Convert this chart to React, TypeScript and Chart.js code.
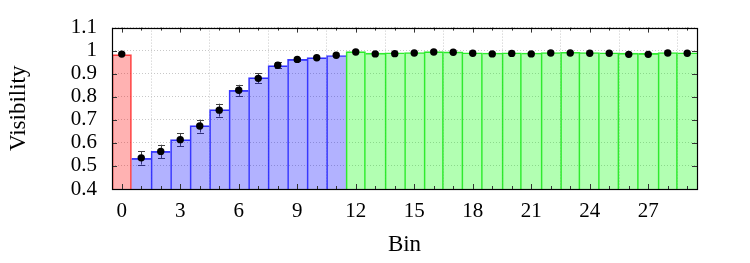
import React, { useEffect, useRef } from "react";
import { Chart, registerables } from "chart.js";

Chart.register(...registerables);

const bins = [0, 1, 2, 3, 4, 5, 6, 7, 8, 9, 10, 11, 12, 13, 14, 15, 16, 17, 18, 19, 20, 21, 22, 23, 24, 25, 26, 27, 28, 29];
const groups = ["r", "b", "b", "b", "b", "b", "b", "b", "b", "b", "b", "b", "g", "g", "g", "g", "g", "g", "g", "g", "g", "g", "g", "g", "g", "g", "g", "g", "g", "g"];
const barValues = [0.983, 0.533, 0.563, 0.614, 0.675, 0.744, 0.828, 0.883, 0.935, 0.962, 0.970, 0.979, 0.996, 0.989, 0.991, 0.992, 0.996, 0.995, 0.991, 0.990, 0.991, 0.990, 0.992, 0.993, 0.992, 0.991, 0.989, 0.988, 0.992, 0.991];
const pointValues = [0.985, 0.535, 0.563, 0.614, 0.673, 0.742, 0.828, 0.880, 0.937, 0.962, 0.969, 0.980, 0.994, 0.986, 0.987, 0.990, 0.994, 0.993, 0.989, 0.986, 0.988, 0.986, 0.990, 0.990, 0.989, 0.989, 0.984, 0.984, 0.990, 0.989];
const errors = [0.003, 0.029, 0.029, 0.029, 0.028, 0.028, 0.024, 0.021, 0.014, 0.008, 0.006, 0.005, 0.003, 0.003, 0.003, 0.003, 0.003, 0.003, 0.003, 0.003, 0.003, 0.003, 0.003, 0.003, 0.003, 0.003, 0.003, 0.003, 0.003, 0.003];
const xTicks = [0, 3, 6, 9, 12, 15, 18, 21, 24, 27];
const yTicks = [0.4, 0.5, 0.6, 0.7, 0.8, 0.9, 1.0, 1.1];

const fillFor: Record<string, string> = { r: "rgba(255,0,0,0.3)", b: "rgba(0,0,255,0.3)", g: "rgba(0,255,0,0.3)" };
const lineFor: Record<string, string> = { r: "rgba(255,60,60,0.9)", b: "rgba(40,40,255,0.9)", g: "rgba(30,230,30,0.9)" };

const FONT = "'Liberation Serif', serif";

const framePlugin = {
  id: "frameTicks",
  beforeDatasetDraw(chart: any, args: any) {
    if (args.index !== 1) return;
    const ctx = chart.ctx;
    const y = chart.scales.y;
    const x = chart.scales.x;
    ctx.save();
    ctx.strokeStyle = "#444";
    ctx.lineWidth = 1;
    bins.forEach((b, i) => {
      const px = Math.round(x.getPixelForValue(b)) + 0.5;
      const top = y.getPixelForValue(pointValues[i] + errors[i]);
      const bot = y.getPixelForValue(pointValues[i] - errors[i]);
      if (bot - top < 3) return;
      ctx.beginPath();
      ctx.moveTo(px, top);
      ctx.lineTo(px, bot);
      ctx.moveTo(px - 3.5, Math.round(top) + 0.5);
      ctx.lineTo(px + 3.5, Math.round(top) + 0.5);
      ctx.moveTo(px - 3.5, Math.round(bot) + 0.5);
      ctx.lineTo(px + 3.5, Math.round(bot) + 0.5);
      ctx.stroke();
    });
    ctx.restore();
  },
  afterDraw(chart: any) {
    const ctx = chart.ctx;
    const a = chart.chartArea;
    const x = chart.scales.x;
    const y = chart.scales.y;
    ctx.save();
    ctx.strokeStyle = "#333";
    ctx.lineWidth = 1;
    ctx.beginPath();
    bins.forEach((b) => {
      const px = Math.round(x.getPixelForValue(b)) + 0.5;
      const len = b % 3 === 0 ? 5 : 3;
      ctx.moveTo(px, a.bottom);
      ctx.lineTo(px, a.bottom - len);
      ctx.moveTo(px, a.top);
      ctx.lineTo(px, a.top + len);
    });
    yTicks.forEach((v) => {
      const py = Math.round(y.getPixelForValue(v)) + 0.5;
      ctx.moveTo(a.left, py);
      ctx.lineTo(a.left + 5, py);
      ctx.moveTo(a.right, py);
      ctx.lineTo(a.right - 5, py);
    });
    ctx.stroke();
    ctx.strokeStyle = "#000";
    ctx.lineWidth = 1.2;
    ctx.strokeRect(Math.round(a.left) + 0.5, Math.round(a.top) + 0.5, Math.round(a.right - a.left), Math.round(a.bottom - a.top));
    ctx.restore();
  },
};

export default function App() {
  const ref = useRef<HTMLCanvasElement | null>(null);
  useEffect(() => {
    document.body.style.margin = "0";
    if (!ref.current) return;
    const chart = new Chart(ref.current, {
      type: "bar",
      data: {
        datasets: [
          {
            type: "line",
            data: bins.map((b, i) => ({ x: b, y: pointValues[i] })),
            showLine: false,
            pointRadius: 3.7,
            pointBackgroundColor: "#000",
            pointBorderColor: "#000",
            pointBorderWidth: 0,
            order: 0,
          } as any,
          {
            type: "bar",
            data: bins.map((b, i) => ({ x: b, y: barValues[i] })),
            backgroundColor: groups.map((g) => fillFor[g]),
            borderColor: groups.map((g) => lineFor[g]),
            borderWidth: (c: any) => {
              const i = c.dataIndex;
              const n = barValues.length;
              const left = i === 0 || barValues[i - 1] <= barValues[i] ? 1 : 0;
              const right = i < n - 1 && barValues[i + 1] < barValues[i] ? 1 : 0;
              return { top: 1, left, right, bottom: 0 };
            },
            barPercentage: 1,
            categoryPercentage: 1,
            order: 1,
          } as any,
        ],
      },
      options: {
        responsive: false,
        animation: false,
        layout: { padding: { top: 27, right: 53, left: 0, bottom: 0 } },
        plugins: { legend: { display: false }, tooltip: { enabled: false } },
        scales: {
          x: {
            type: "linear",
            min: -0.5,
            max: 29.5,
            offset: false,
            afterBuildTicks: (s: any) => {
              s.ticks = xTicks.map((v) => ({ value: v }));
            },
            afterFit: (s: any) => {
              s.height = 74;
            },
            ticks: { font: { family: FONT, size: 21 }, color: "#000", padding: 10, autoSkip: false, maxRotation: 0 },
            grid: { color: "#c8c8c8", drawTicks: false, lineWidth: 1 },
            border: { display: false, dash: [1, 2] },
            title: { display: true, text: "Bin", font: { family: FONT, size: 23 }, color: "#000", padding: { top: 0, bottom: 4 } },
          },
          y: {
            min: 0.4,
            max: 1.1,
            afterBuildTicks: (s: any) => {
              s.ticks = yTicks.map((v) => ({ value: v }));
            },
            afterFit: (s: any) => {
              s.width = 112;
            },
            ticks: {
              font: { family: FONT, size: 21 },
              color: "#000",
              padding: 15,
              autoSkip: false,
              callback: (v: any) => String(Number(Number(v).toFixed(1))),
            },
            grid: { color: "#c8c8c8", drawTicks: false, lineWidth: 1 },
            border: { display: false, dash: [1, 2] },
            title: { display: true, text: "Visibility", font: { family: FONT, size: 23 }, color: "#000", padding: { top: 5, bottom: 0 } },
          },
        },
      },
      plugins: [framePlugin],
    } as any);
    return () => chart.destroy();
  }, []);
  return (
    <div style={{ width: 750, height: 263 }}>
      <canvas ref={ref} width={750} height={263} />
    </div>
  );
}
